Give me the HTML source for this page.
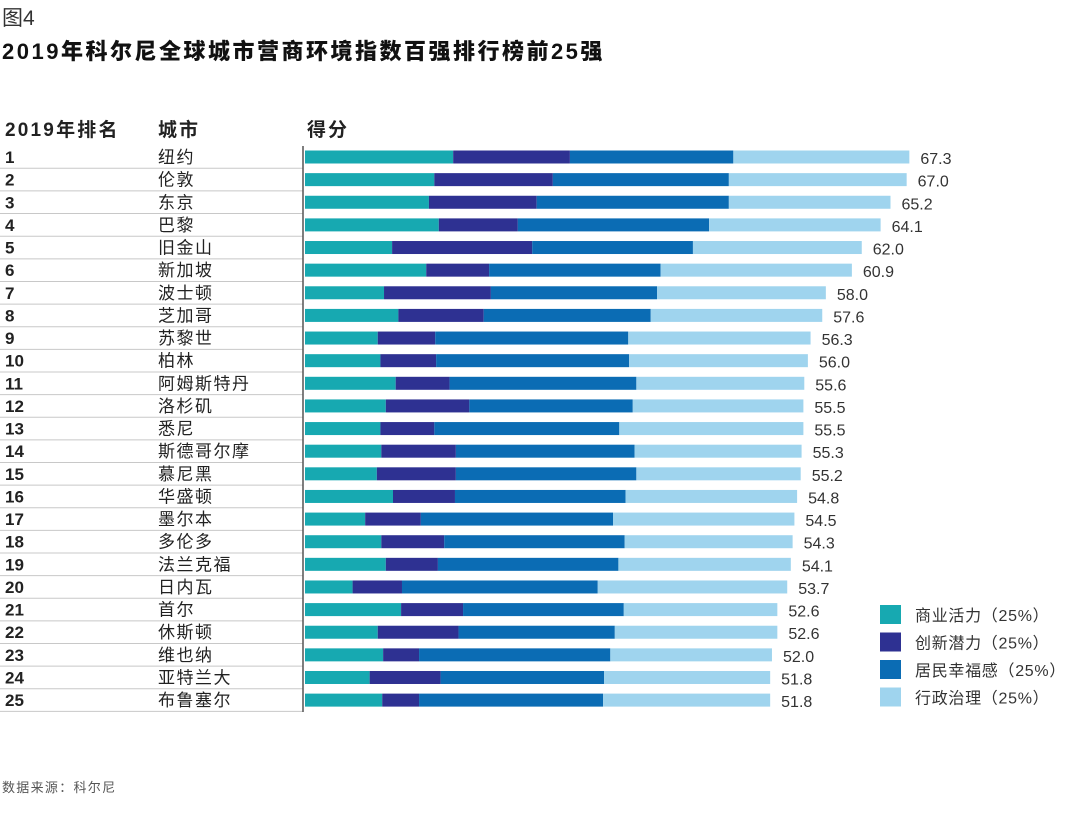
<!DOCTYPE html>
<html><head><meta charset="utf-8">
<style>
body{margin:0;background:#fff;font-family:"Liberation Sans","Noto Sans CJK SC",sans-serif;color:#222;}
#wrap{position:relative;width:1080px;height:819px;overflow:hidden;}
.t{position:absolute;white-space:nowrap;}
</style></head>
<body>
<div id="wrap">
<div class="t" style="left:2px;top:2px;font-size:21px;color:#333;">图4</div>
<div class="t" style="left:2px;top:34px;font-size:22px;font-weight:900;letter-spacing:2.5px;color:#111;">2019年科尔尼全球城市营商环境指数百强排行榜前25强</div>
<div class="t" style="left:5px;top:115px;font-size:19px;font-weight:bold;letter-spacing:2.2px;">2019年排名</div>
<div class="t" style="left:158px;top:115px;font-size:19px;font-weight:bold;letter-spacing:2px;">城市</div>
<div class="t" style="left:307px;top:115px;font-size:19px;font-weight:bold;letter-spacing:2px;">得分</div>
<svg id="chart" width="1080" height="819" style="position:absolute;left:0;top:0"></svg>
<div class="t" style="left:2px;top:777px;font-size:13px;letter-spacing:1.3px;color:#555;">数据来源：科尔尼</div>
</div>
<script>
const cities=["纽约","伦敦","东京","巴黎","旧金山","新加坡","波士顿","芝加哥","苏黎世","柏林","阿姆斯特丹","洛杉矶","悉尼","斯德哥尔摩","慕尼黑","华盛顿","墨尔本","多伦多","法兰克福","日内瓦","首尔","休斯顿","维也纳","亚特兰大","布鲁塞尔"];
const totals=[67.3,67.0,65.2,64.1,62.0,60.9,58.0,57.6,56.3,56.0,55.6,55.5,55.5,55.3,55.2,54.8,54.5,54.3,54.1,53.7,52.6,52.6,52.0,51.8,51.8];
const business=[16.5,14.4,13.8,14.9,9.7,13.5,8.8,10.4,8.1,8.4,10.1,9.0,8.4,8.5,8.0,9.8,6.7,8.5,9.0,5.3,10.7,8.1,8.7,7.2,8.6];
const innovation=[13.0,13.2,12.0,8.8,15.6,7.0,11.9,9.5,6.4,6.2,6.0,9.3,6.0,8.3,8.8,6.9,6.2,7.0,5.8,5.5,6.9,9.0,4.0,7.9,4.1];
const wellbeing=[18.2,19.6,21.4,21.3,17.9,19.1,18.5,18.6,21.5,21.5,20.8,18.2,20.6,19.9,20.1,19.0,21.4,20.1,20.1,21.8,17.9,17.4,21.3,18.2,20.5];
const governance=totals.map((t,i)=>+(t-business[i]-innovation[i]-wellbeing[i]).toFixed(1));
const seriesNames=["商业活力（25%）","创新潜力（25%）","居民幸福感（25%）","行政治理（25%）"];
const colors=["#17a9b1","#2e3192","#0b6cb4","#9fd4ee"];

const NS="http://www.w3.org/2000/svg";
const svg=document.getElementById('chart');
const x0=305, scale=8.98, y0=157, step=22.63, bh=13;
const xs=v=>x0+v*scale;
const yc=i=>y0+i*step;
function mk(tag,attrs){const e=document.createElementNS(NS,tag);for(const k in attrs)e.setAttribute(k,attrs[k]);svg.appendChild(e);return e;}
const series=[business,innovation,wellbeing,governance];
for(let i=0;i<cities.length;i++){
  const sep=mk('line',{x1:0,x2:303,y1:yc(i)+11.3,y2:yc(i)+11.3,stroke:'#c8c8c8','stroke-width':1});
  
  
  const r=mk('text',{x:5,y:yc(i)+6,'font-size':17,'font-weight':'bold',fill:'#222'});
  r.textContent=String(i+1);
  
  
  const c=mk('text',{x:158,y:yc(i)+6,'font-size':17,'letter-spacing':1.5,fill:'#222'});
  c.textContent=cities[i];
  
  
  let acc=0;
  for(let s=0;s<4;s++){
    const v=series[s][i];
    const b=mk('rect',{x:xs(acc),y:yc(i)-bh/2,width:v*scale,height:bh,fill:colors[s]});
    
    
    acc+=v;
  }
  const vt=mk('text',{x:xs(totals[i])+11,y:yc(i)+7,'font-size':16,fill:'#333'});
  vt.textContent=totals[i].toFixed(1);
  
  
}
const ax=mk('line',{x1:303,x2:303,y1:146,y2:712,stroke:'#555','stroke-width':1.5});


for(let s=0;s<4;s++){
  const ly=605+s*27.5;
  const sq=mk('rect',{x:880,y:ly,width:21,height:19,fill:colors[s]});
  
  
  const lt=mk('text',{x:915,y:ly+16,'font-size':16,'letter-spacing':0.7,fill:'#333'});
  lt.textContent=seriesNames[s];
  
  
}
</script>
</body></html>
